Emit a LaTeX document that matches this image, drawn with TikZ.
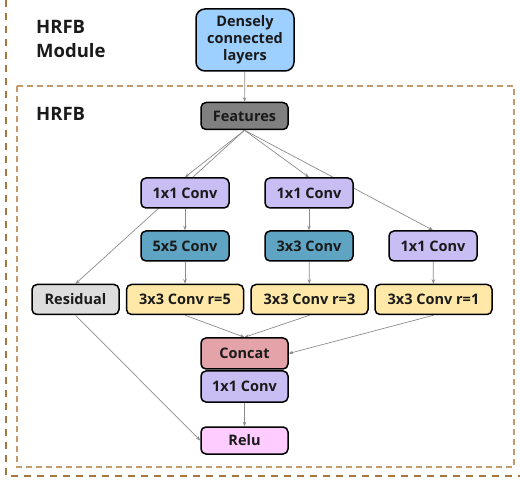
\documentclass[tikz,border=0pt]{standalone}
\usepackage{fontspec}
\setmainfont{Open Sans}
\usetikzlibrary{arrows.meta,backgrounds}

\definecolor{txt}{HTML}{1A1A1A}
\definecolor{linkgray}{HTML}{8C8C8C}
\definecolor{outerbrown}{HTML}{A8773F}
\definecolor{innerbrown}{HTML}{C49A6C}
\definecolor{denseblue}{HTML}{9DCFFF}
\definecolor{featgray}{HTML}{808080}
\definecolor{convpurple}{HTML}{C8BEF4}
\definecolor{convteal}{HTML}{5FA4C2}
\definecolor{resgray}{HTML}{DDDDDD}
\definecolor{dilyellow}{HTML}{FFE8A8}
\definecolor{catred}{HTML}{E3A3A8}
\definecolor{relupink}{HTML}{FFCCFF}

\begin{document}
\begin{tikzpicture}[x=1pt,y=-1pt,
  blk/.style={draw=black, line width=1.5pt, rounded corners=5pt, inner sep=0pt,
    font=\bfseries\fontsize{14.5}{17}\selectfont, text=txt, align=center},
  link/.style={draw=linkgray, line width=0.7pt, -{Stealth[length=4.5pt,width=3.5pt]}},
  ttl/.style={anchor=base west, inner sep=0pt, font=\bfseries\fontsize{18.5}{22}\selectfont, text=txt}]
\useasboundingbox (0,0) rectangle (520,481);

% module frame (open at top and right) and HRFB frame
\draw[outerbrown, line width=2.2pt, dash pattern=on 7pt off 6pt] (6,0) -- (6,476) -- (520,476);
\draw[innerbrown, line width=1.3pt, dash pattern=on 6pt off 4pt] (17,86) rectangle (514,467);

% titles
\node[ttl] (tmod1) at (36,34) {HRFB};
\node[ttl] (tmod2) at (36,58) {Module};
\node[ttl] (thrfb) at (36,121) {HRFB};

% blocks
\node[blk, fill=denseblue, rounded corners=9pt, minimum width=98pt, minimum height=62pt] (dense) at (245,40) {Densely\\connected\\layers};
\node[blk, fill=featgray, minimum width=87pt, minimum height=27pt] (feat) at (244.5,116) {Features};

\node[blk, fill=convpurple, minimum width=88pt, minimum height=30pt] (c1a) at (185,193) {1x1 Conv};
\node[blk, fill=convpurple, minimum width=88pt, minimum height=30pt] (c1b) at (309,193) {1x1 Conv};

\node[blk, fill=convteal, minimum width=88pt, minimum height=30pt] (c5) at (185,246) {5x5 Conv};
\node[blk, fill=convteal, minimum width=88pt, minimum height=30pt] (c3) at (309,246) {3x3 Conv};
\node[blk, fill=convpurple, minimum width=88pt, minimum height=30pt] (c1c) at (433,246) {1x1 Conv};

\node[blk, fill=resgray, minimum width=87pt, minimum height=30pt] (res) at (75.5,299.5) {Residual};
\node[blk, fill=dilyellow, minimum width=117pt, minimum height=30pt] (r5) at (185,299.5) {3x3 Conv r=5};
\node[blk, fill=dilyellow, minimum width=117pt, minimum height=30pt] (r3) at (309.5,299.5) {3x3 Conv r=3};
\node[blk, fill=dilyellow, minimum width=117pt, minimum height=30pt] (r1) at (433.5,299.5) {3x3 Conv r=1};

\node[blk, fill=catred, minimum width=87pt, minimum height=31pt] (cat) at (244.5,353.5) {Concat};
\node[blk, fill=convpurple, minimum width=87pt, minimum height=31pt] (c1d) at (244.5,386.5) {1x1 Conv};
\node[blk, fill=relupink, minimum width=87pt, minimum height=27pt] (relu) at (244.5,440.5) {Relu};

% connectors, kept behind the blocks
\begin{scope}[on background layer]
  \draw[link] (dense) -- (feat);
  \draw[link] (feat.south) -- (c1a.north);
  \draw[link] (feat.south) -- (c1b.north);
  \draw[link] (feat.south) -- (res.north);
  \draw[link] (feat.south) -- (c1c.north);
  \draw[link] (c1a) -- (c5);
  \draw[link] (c1b) -- (c3);
  \draw[link] (c5) -- (r5);
  \draw[link] (c3) -- (r3);
  \draw[link] (c1c) -- (r1);
  \draw[link] (r5.south) -- (cat.north);
  \draw[link] (r3.south) -- (cat.north);
  \draw[link] (r1.south) -- (cat.east);
  \draw[link] (res.south) -- (relu.west);
  \draw[link] (c1d) -- (relu);
\end{scope}
\end{tikzpicture}
\end{document}
